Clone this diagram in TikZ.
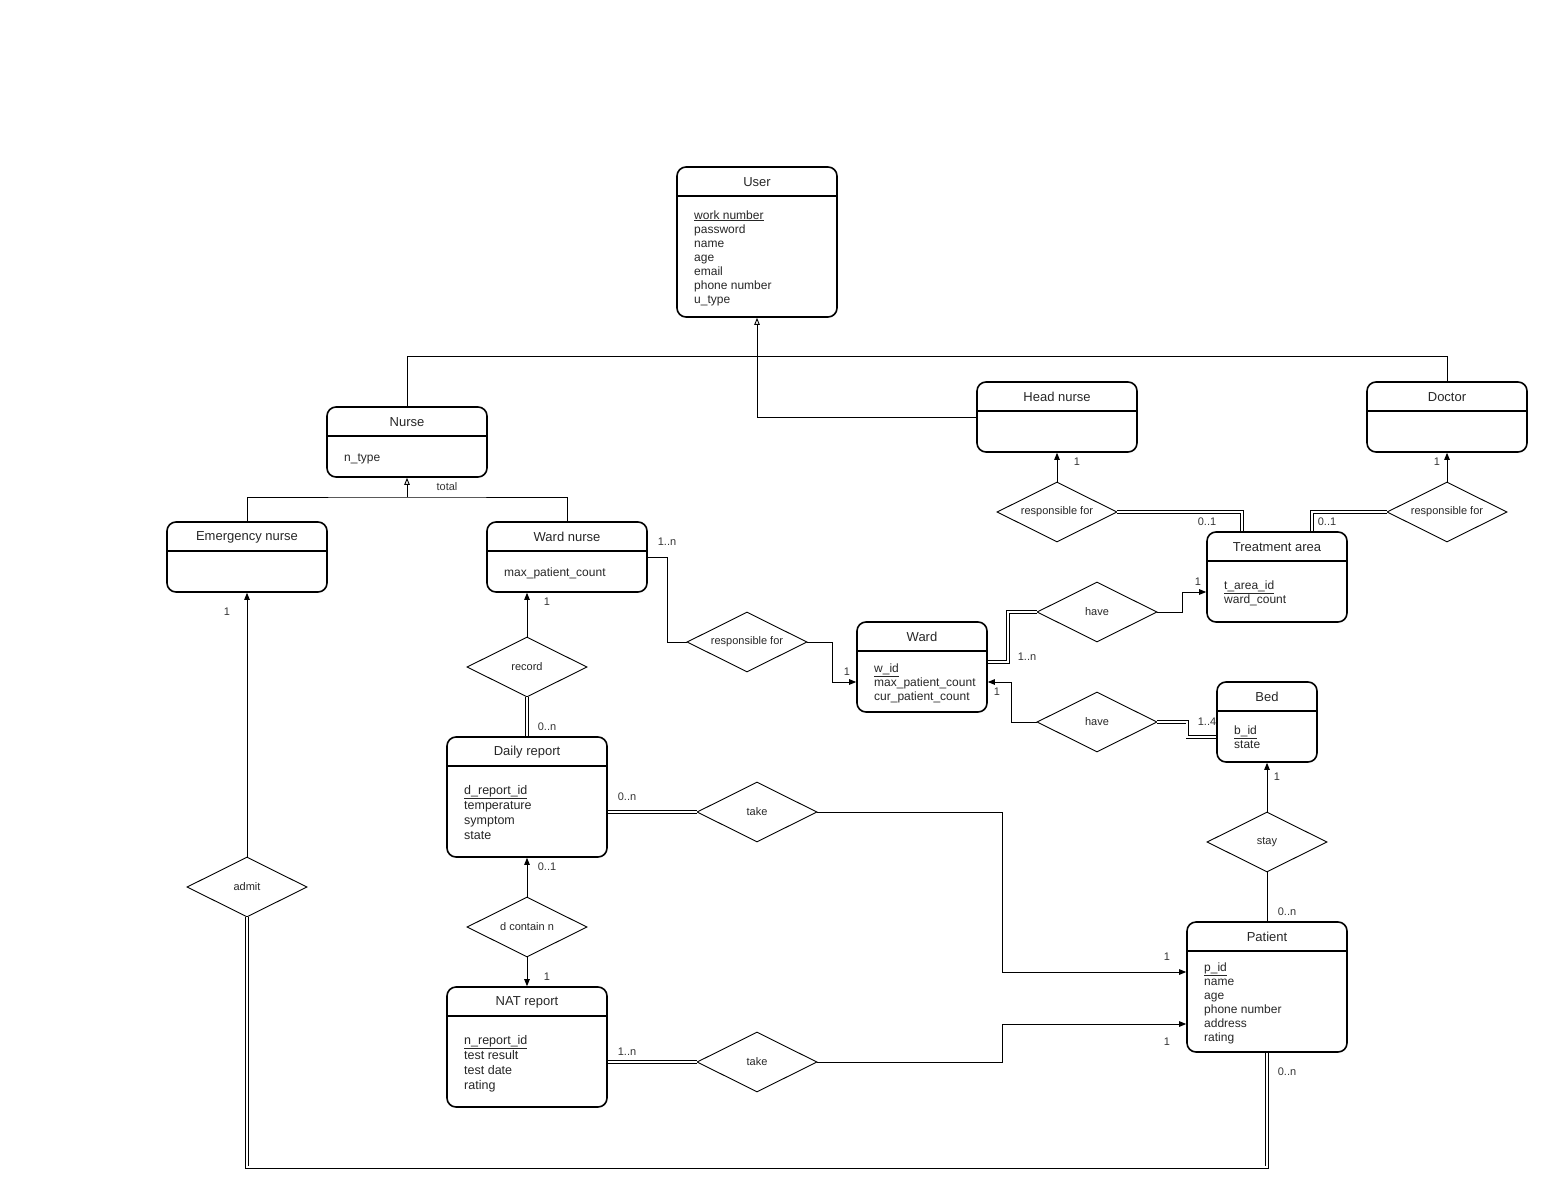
\documentclass[tikz,border=0pt]{standalone}
\usepackage{fontspec}
\setmainfont{Liberation Sans}
\usepackage{tikz}
\usetikzlibrary{shapes.geometric, arrows.meta, positioning, calc}

\begin{document}
\begin{tikzpicture}[
    x=1pt, y=-1pt,
    entity/.style={rectangle, draw, line width=1.6pt, rounded corners=9pt, inner sep=0pt},
    ttl/.style={font=\fontsize{13}{15}\selectfont, text=black!85},
    attr/.style={anchor=base west, align=left, inner sep=0pt, font=\fontsize{12}{14}\selectfont, text=black!85},
    attrw/.style={attr, font=\fontsize{12.5}{15}\selectfont},
    rel/.style={diamond, draw, line width=0.9pt, aspect=2, minimum width=120, minimum height=60, inner sep=0pt, font=\fontsize{11}{13}\selectfont, text=black!85},
    card/.style={inner sep=0pt, font=\fontsize{11}{13}\selectfont, text=black!80},
    conn/.style={line width=0.9pt},
    arr/.style={conn, -{Triangle[length=7pt, width=5.5pt]}},
    isa/.style={conn, -{Triangle[open, length=7pt, width=5.5pt]}},
    dbl/.style={double, double distance=2pt, line width=0.8pt},
    sep/.style={line width=1.6pt}
]
    \useasboundingbox (0,0) rectangle (1563,1204);

    \node (user) [entity, minimum width=160, minimum height=150] at (757,242) {};
    \node (nurse) [entity, minimum width=160, minimum height=70] at (407,442) {};
    \node (hnurse) [entity, minimum width=160, minimum height=70] at (1057,417) {};
    \node (doctor) [entity, minimum width=160, minimum height=70] at (1447,417) {};
    \node (enurse) [entity, minimum width=160, minimum height=70] at (247,557) {};
    \node (wnurse) [entity, minimum width=160, minimum height=70] at (567,557) {};
    \node (tarea) [entity, minimum width=140, minimum height=90] at (1277,577) {};
    \node (ward) [entity, minimum width=130, minimum height=90] at (922,667) {};
    \node (bed) [entity, minimum width=100, minimum height=80] at (1267,722) {};
    \node (dreport) [entity, minimum width=160, minimum height=120] at (527,797) {};
    \node (nreport) [entity, minimum width=160, minimum height=120] at (527,1047) {};
    \node (patient) [entity, minimum width=160, minimum height=130] at (1267,987) {};

    \foreach \e in {user, nurse, hnurse, doctor, enurse, wnurse, tarea, ward, bed, dreport, nreport, patient}
        \draw[sep] ([yshift=-30]\e.north west) -- ([yshift=-30]\e.north east);

    \node (userT) [ttl] at ([yshift=-16]user.north) {User};
    \node (nurseT) [ttl] at ([yshift=-16]nurse.north) {Nurse};
    \node (hnurseT) [ttl] at ([yshift=-16]hnurse.north) {Head nurse};
    \node (doctorT) [ttl] at ([yshift=-16]doctor.north) {Doctor};
    \node (enurseT) [ttl] at ([yshift=-16]enurse.north) {Emergency nurse};
    \node (wnurseT) [ttl] at ([yshift=-16]wnurse.north) {Ward nurse};
    \node (tareaT) [ttl] at ([yshift=-16]tarea.north) {Treatment area};
    \node (wardT) [ttl] at ([yshift=-16]ward.north) {Ward};
    \node (bedT) [ttl] at ([yshift=-16]bed.north) {Bed};
    \node (dreportT) [ttl] at ([yshift=-16]dreport.north) {Daily report};
    \node (nreportT) [ttl] at ([yshift=-16]nreport.north) {NAT report};
    \node (patientT) [ttl] at ([yshift=-16]patient.north) {Patient};

    \node (userA) [attr] at (694,303) {\underline{work number}\\password\\name\\age\\email\\phone number\\u\_type};
    \node (nurseA) [attr] at (344,461) {n\_type};
    \node (wnurseA) [attr] at (504,576) {max\_patient\_count};
    \node (tareaA) [attr] at (1224,603) {\underline{t\_area\_id}\\ward\_count};
    \node (wardA) [attr] at (874,700) {\underline{w\_id}\\max\_patient\_count\\cur\_patient\_count};
    \node (bedA) [attr] at (1234,748) {\underline{b\_id}\\state};
    \node (dreportA) [attrw] at (464,839) {\underline{d\_report\_id}\\temperature\\symptom\\state};
    \node (nreportA) [attrw] at (464,1089) {\underline{n\_report\_id}\\test result\\test date\\rating};
    \node (patientA) [attr] at (1204,1041) {\underline{p\_id}\\name\\age\\phone number\\address\\rating};

    \node (rhn) [rel] at (1057,512) {responsible for};
    \node (rdoc) [rel] at (1447,512) {responsible for};
    \node (rwn) [rel] at (747,642) {responsible for};
    \node (have1) [rel] at (1097,612) {have};
    \node (have2) [rel] at (1097,722) {have};
    \node (rec) [rel] at (527,667) {record};
    \node (take1) [rel] at (757,812) {take};
    \node (take2) [rel] at (757,1062) {take};
    \node (dcn) [rel] at (527,927) {d contain n};
    \node (stay) [rel] at (1267,842) {stay};
    \node (admit) [rel] at (247,887) {admit};

    \coordinate (njoin) at (407,497);

    \draw[conn] (nurse.north) -- ++(0,-50) -| (doctor.north);
    \draw[isa] (hnurse.west) -| (user.south);
    \draw[conn] (enurse.north) |- (njoin) -| (wnurse.north);
    \draw[isa] (njoin) -- (nurse.south);

    \draw[arr] (rhn.north) -- (hnurse.south);
    \draw[arr] (rdoc.north) -- (doctor.south);
    \draw[dbl] (rhn.east) -| ([xshift=-35]tarea.north);
    \draw[dbl] (rdoc.west) -| ([xshift=35]tarea.north);
    \draw[conn] (wnurse.east) -- ++(20,0) |- (rwn.west);
    \draw[arr] (rwn.east) -- ++(25,0) |- ([yshift=-15]ward.west);
    \draw[dbl] ([yshift=5]ward.east) -- ++(20,0) |- (have1.west);
    \draw[arr] (have1.east) -- ++(25,0) |- ([yshift=-15]tarea.west);
    \draw[arr] (have2.west) -- ++(-25,0) |- ([yshift=-15]ward.east);
    \draw[dbl] (have2.east) -- ++(30,0) |- ([yshift=-15]bed.west);
    \draw[arr] (stay.north) -- (bed.south);
    \draw[conn] (stay.south) -- (patient.north);
    \draw[arr] (rec.north) -- (rec.north |- wnurse.south);
    \draw[dbl] (rec.south) -- (dreport.north);
    \draw[dbl] (dreport.east |- take1.west) -- (take1.west);
    \draw[arr] (take1.east) -- ++(185,0) |- ([yshift=15]patient.west);
    \draw[arr] (dcn.north) -- (dreport.south);
    \draw[arr] (dcn.south) -- (nreport.north);
    \draw[dbl] (nreport.east |- take2.west) -- (take2.west);
    \draw[arr] (take2.east) -- ++(185,0) |- ([yshift=-37]patient.west);
    \draw[arr] (admit.north) -- (enurse.south);
    \draw[dbl] (admit.south) -- ++(0,250) -| (patient.south);

    \node (ctotal) [card] at (447,487) {total};
    \node (c1) [card] at (1077,462) {1};
    \node (c2) [card] at (1437,462) {1};
    \node (c3) [card] at (1207,522) {0..1};
    \node (c4) [card] at (1327,522) {0..1};
    \node (c5) [card] at (667,542) {1..n};
    \node (c6) [card] at (847,672) {1};
    \node (c7) [card] at (1027,657) {1..n};
    \node (c8) [card] at (1198,582) {1};
    \node (c9) [card] at (997,692) {1};
    \node (c10) [card] at (1207,722) {1..4};
    \node (c11) [card] at (1277,777) {1};
    \node (c12) [card] at (1287,912) {0..n};
    \node (c13) [card] at (547,602) {1};
    \node (c14) [card] at (547,727) {0..n};
    \node (c15) [card] at (627,797) {0..n};
    \node (c16) [card] at (1167,957) {1};
    \node (c17) [card] at (547,867) {0..1};
    \node (c18) [card] at (547,977) {1};
    \node (c19) [card] at (627,1052) {1..n};
    \node (c20) [card] at (1167,1042) {1};
    \node (c21) [card] at (227,612) {1};
    \node (c22) [card] at (1287,1072) {0..n};
\end{tikzpicture}
\end{document}
